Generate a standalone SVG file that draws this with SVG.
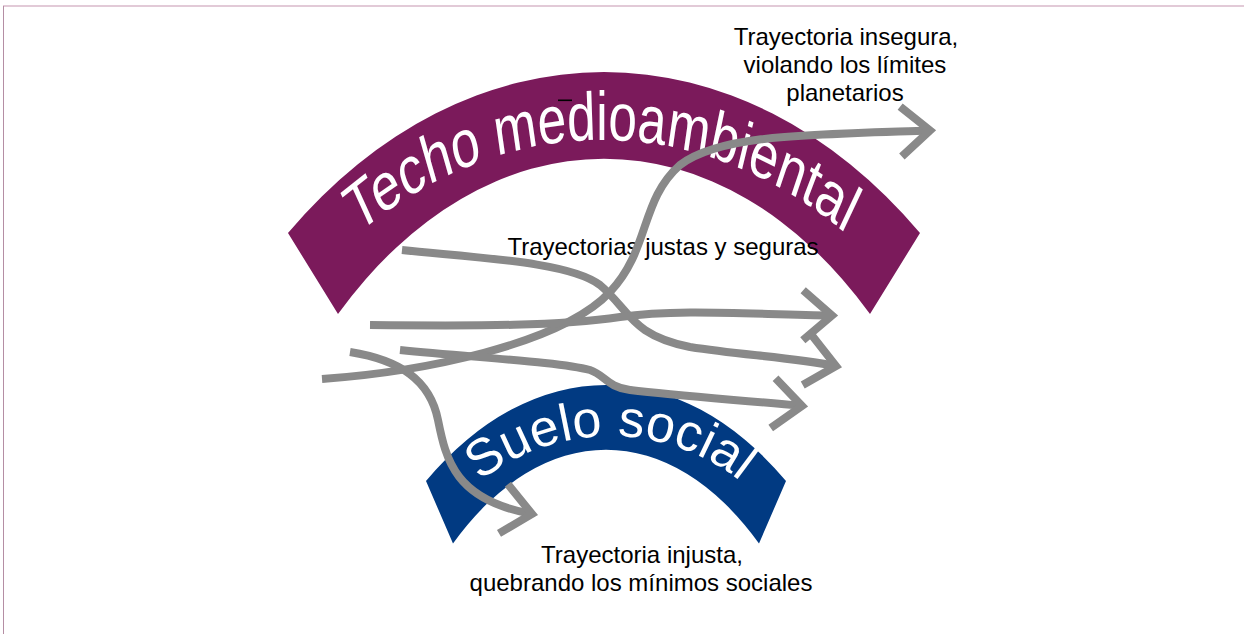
<svg xmlns="http://www.w3.org/2000/svg" width="1244" height="634" viewBox="0 0 1244 634">
<style>
.band-label{fill:#ffffff;font-family:"Liberation Sans",Arial,sans-serif}
.label{fill:#000000;font-family:"Liberation Sans",Arial,sans-serif;font-size:24px;text-anchor:middle}
.traj{fill:none;stroke:#898989;stroke-width:8;marker-end:url(#chev)}
</style>
<defs>
<marker id="chev" markerUnits="userSpaceOnUse" orient="auto" refX="0" refY="0" markerWidth="10" markerHeight="10" overflow="visible">
<path d="M -29 -25 L 0 0 L -29 25" fill="none" stroke="#898989" stroke-width="8" stroke-linejoin="miter"/>
</marker>
<path id="techoPath" d="M 255 268.1 A 453 453 0 0 1 949 268.1"/>
<path id="sueloPath" d="M 438 525.6 A 210 210 0 0 1 782 525.6"/>
</defs>
<rect x="0" y="0" width="1244" height="634" fill="#ffffff"/>
<g id="frame">
<line x1="3" y1="6" x2="1244" y2="6" stroke="#d9b8ca" stroke-width="1.5"/>
<line x1="3.5" y1="6" x2="3.5" y2="634" stroke="#b58ea4" stroke-width="1"/>
</g>
<g id="techo">
<path d="M 288 233 A 484 663.5 0 0 1 920 233 L 870 314 A 390 578 0 0 0 338 314 Z" fill="#7b1a5b"/>
<text class="band-label" font-size="51.5" transform="scale(1,1.316)"><textPath href="#techoPath" startOffset="50%" text-anchor="middle">Techo medioambiental</textPath></text>
<rect x="558" y="99.5" width="14" height="1.6" fill="#000000"/>
</g>
<g id="suelo">
<path d="M 426 481 A 309 513 0 0 1 786 481 L 759 543.5 A 250 448 0 0 0 453 543.5 Z" fill="#013a82"/>
<text class="band-label" font-size="52"><textPath href="#sueloPath" startOffset="50%" text-anchor="middle">Suelo social</textPath></text>
</g>
<g id="label-insegura">
<text class="label" x="846" y="45">Trayectoria insegura,</text>
<text class="label" x="845" y="73">violando los límites</text>
<text class="label" x="845" y="101">planetarios</text>
</g>
<g id="label-justas">
<text class="label" x="663" y="255">Trayectorias justas y seguras</text>
</g>
<g id="label-injusta">
<text class="label" x="642" y="563">Trayectoria injusta,</text>
<text class="label" x="641" y="591">quebrando los mínimos sociales</text>
</g>
<g id="connectors">
<path id="traj-insegura" class="traj" d="M 322 379 C 420 372, 560 345, 610 292 C 650 250, 640 200, 680 165 C 720 135, 800 135, 930 130.5"/>
<path id="traj-justa-1" class="traj" d="M 402 250 C 480 258, 570 262, 600 285 C 630 310, 630 335, 690 347 C 740 355, 790 357, 836 366"/>
<path id="traj-justa-2" class="traj" d="M 370 325 C 480 326, 560 326, 620 317 C 680 308, 760 315, 832 315.5"/>
<path id="traj-justa-3" class="traj" d="M 400 350 C 480 358, 560 362, 590 370 C 605 375, 607 387, 630 390 C 680 396, 740 400, 802 406"/>
<path id="traj-injusta" class="traj" d="M 350 352 C 400 360, 430 380, 438 420 C 446 460, 455 500, 532 514"/>
</g>
</svg>
